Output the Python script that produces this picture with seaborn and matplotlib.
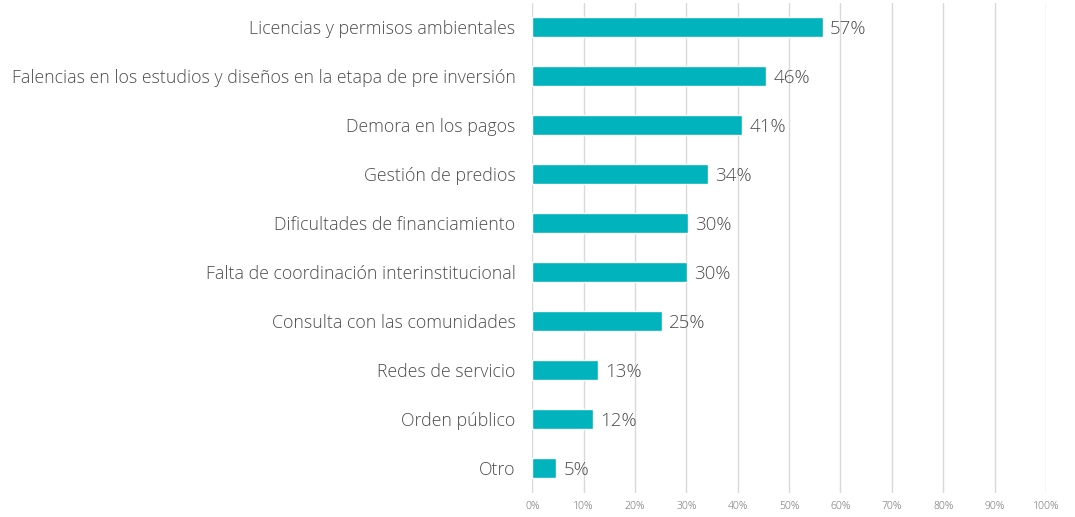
import matplotlib
matplotlib.use("Agg")
import matplotlib.pyplot as plt
import pandas as pd
import seaborn as sns

# Data
causas = ["Licencias y permisos ambientales",
          "Falencias en los estudios y diseños en la etapa de pre inversión",
          "Demora en los pagos",
          "Gestión de predios",
          "Dificultades de financiamiento",
          "Falta de coordinación interinstitucional",
          "Consulta con las comunidades",
          "Redes de servicio",
          "Orden público",
          "Otro"]
porcentaje = [56.6, 45.6, 40.9, 34.2, 30.3, 30.2, 25.3, 12.8, 11.9, 4.7]
ticks = [0, 10, 20, 30, 40, 50, 60, 70, 80, 90, 100]

df = pd.DataFrame({"causa": causas, "pct": porcentaje})

sns.set_style("white")
plt.rcParams["font.family"] = ["Open Sans", "DejaVu Sans"]

fig = plt.figure(figsize=(10.75, 5.17), dpi=100)
ax = fig.add_axes([0.495, 0.047, 0.478, 0.948])

sns.barplot(data=df, x="pct", y="causa", color="#00B3BD", width=0.42,
            saturation=1, ax=ax, zorder=3)

for i, v in enumerate(porcentaje):
    ax.text(v + 1.4, i + 0.04, f"{round(v):.0f}%", va="center", ha="left",
            fontsize=13.5, color="#4d4d4d", fontweight="light")

ax.set_xlim(0, 100)
ax.set_xticks(ticks)
ax.set_xticklabels([f"{t}%" for t in ticks], fontsize=7.5, color="#666666",
                   fontweight="light")
ax.set_yticks(range(len(causas)))
ax.set_yticklabels(causas, fontsize=12.8, color="#4d4d4d", fontweight="light")
ax.tick_params(axis="y", length=0, pad=12)
ax.tick_params(axis="x", length=0, pad=6)
ax.xaxis.grid(True, color="#d9d9d9", linewidth=1)
ax.set_axisbelow(True)
ax.set_xlabel("")
ax.set_ylabel("")
for s in ax.spines.values():
    s.set_visible(False)

fig.savefig("out.png", dpi=100)
